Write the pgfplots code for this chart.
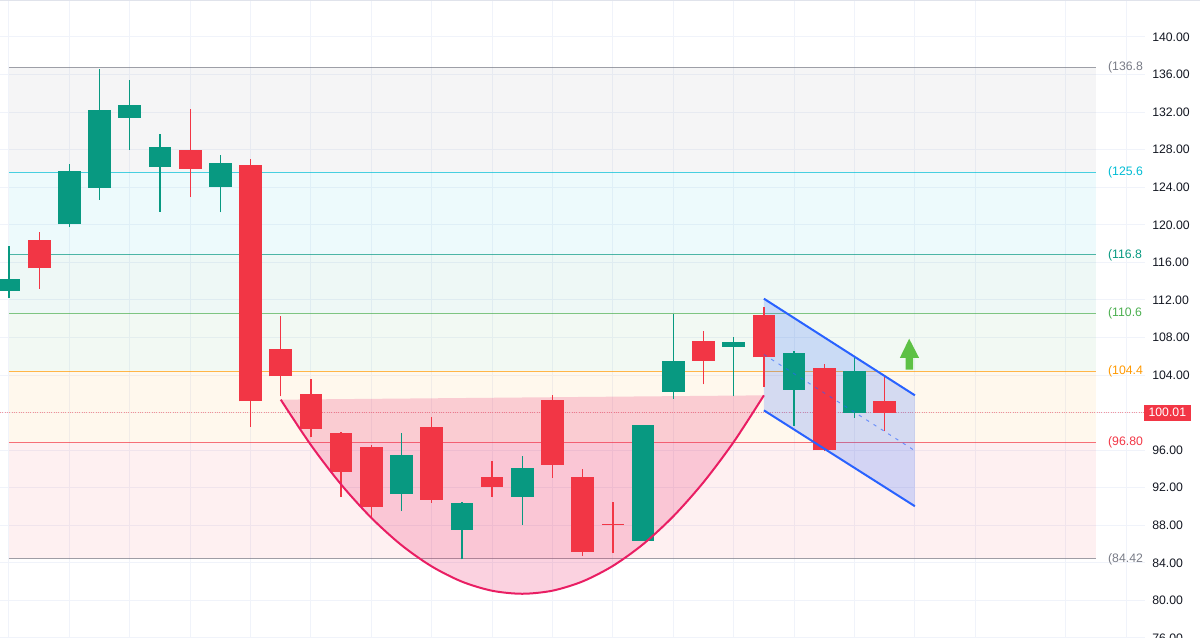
\documentclass[border=0pt]{standalone}
\usepackage{pgfplots}
\usepackage{pgfplotstable}
\pgfplotsset{compat=1.18}
\usepackage{fontspec}
\setmainfont{Liberation Sans}
\definecolor{cgreen}{HTML}{089981}
\definecolor{cred}{HTML}{F23645}
\definecolor{fgray}{HTML}{787B86}
\definecolor{fcyan}{HTML}{00BCD4}
\definecolor{fteal}{HTML}{089981}
\definecolor{fgreen}{HTML}{4CAF50}
\definecolor{forange}{HTML}{FF9800}
\definecolor{fred}{HTML}{F23645}
\definecolor{cup}{HTML}{E91E63}
\definecolor{chan}{HTML}{2962FF}
\definecolor{arrowg}{HTML}{5EC145}
\definecolor{gridc}{HTML}{F0F3FA}
\definecolor{tickc}{HTML}{131722}
\definecolor{borderc}{HTML}{E0E3EB}

\pgfplotstableread{
x o h l c
0 112.98 117.77 112.23 114.26
2 120.07 126.49 119.76 125.78
3 123.94 136.60 122.69 132.23
4 131.41 135.46 127.98 132.80
5 126.20 129.68 121.38 128.30
7 124.07 127.45 121.31 126.60
13 91.31 97.87 89.50 95.46
15 87.52 90.45 84.36 90.35
17 91.03 95.35 88.05 94.15
21 86.38 98.69 86.38 98.69
22 102.23 110.53 101.49 105.53
24 107.02 108.05 101.73 107.48
26 102.45 106.52 98.62 106.35
28 99.97 105.88 99.44 104.39
}\greendata

\pgfplotstableread{
x o h l c
1 118.33 119.26 113.19 115.35
6 127.98 132.31 122.95 125.96
8 126.35 127.05 98.51 101.20
9 106.78 110.24 101.73 103.86
10 101.95 103.58 97.37 98.27
11 97.80 97.90 90.99 93.72
12 96.31 96.52 88.69 90.00
14 98.44 99.50 90.39 90.74
16 93.19 94.82 91.06 92.13
18 101.31 101.88 93.05 94.47
19 93.12 94.04 84.71 85.14
20 88.18 90.43 85.00 88.05
23 107.63 108.72 103.01 105.50
25 110.35 111.20 102.73 105.88
27 104.76 105.18 95.88 95.99
29 101.20 103.76 98.01 100.01
}\reddata

\begin{document}
\begin{tikzpicture}
\useasboundingbox (0,0) rectangle (900pt,478.5pt);
\begin{axis}[
  at={(0,0)}, anchor=south west,
  width=858.75pt, height=478.5pt, scale only axis,
  xmin=-0.298, xmax=37.62, ymin=76.0, ymax=143.94,
  axis line style={draw=none},
  major tick length=0pt,
  xtick={0,2,4,6,8,10,12,14,16,18,20,22,24,26,28,30,32,35,37},
  xticklabels={},
  ytick={76,80,84,88,92,96,100,104,108,112,116,120,124,128,132,136,140},
  yticklabels={76.00,80.00,84.00,88.00,92.00,96.00,{},104.00,108.00,112.00,116.00,120.00,124.00,128.00,132.00,136.00,140.00},
  yticklabel pos=right,
  yticklabel style={anchor=west, inner sep=0pt, xshift=5.25pt, font=\fontsize{9.2}{10}\selectfont, text=tickc},
  grid=major, major grid style={draw=gridc, line width=0.75pt},
  clip mode=individual,
]
% Fibonacci bands
\addplot[draw=none, fill=fgray, fill opacity=0.075] coordinates {(0,125.6) (36,125.6) (36,136.8) (0,136.8)} -- cycle;
\addplot[draw=none, fill=fcyan, fill opacity=0.07] coordinates {(0,116.8) (36,116.8) (36,125.6) (0,125.6)} -- cycle;
\addplot[draw=none, fill=fteal, fill opacity=0.07] coordinates {(0,110.6) (36,110.6) (36,116.8) (0,116.8)} -- cycle;
\addplot[draw=none, fill=fgreen, fill opacity=0.07] coordinates {(0,104.4) (36,104.4) (36,110.6) (0,110.6)} -- cycle;
\addplot[draw=none, fill=forange, fill opacity=0.07] coordinates {(0,96.8) (36,96.8) (36,104.4) (0,104.4)} -- cycle;
\addplot[draw=none, fill=fred, fill opacity=0.075] coordinates {(0,84.42) (36,84.42) (36,96.8) (0,96.8)} -- cycle;
% Fibonacci lines
\addplot[draw=fgray, opacity=0.7, line width=0.75pt] coordinates {(0,136.8) (36,136.8)};
\addplot[draw=fcyan, opacity=0.7, line width=0.75pt] coordinates {(0,125.6) (36,125.6)};
\addplot[draw=fteal, opacity=0.7, line width=0.75pt] coordinates {(0,116.8) (36,116.8)};
\addplot[draw=fgreen, opacity=0.7, line width=0.75pt] coordinates {(0,110.6) (36,110.6)};
\addplot[draw=forange, opacity=0.7, line width=0.75pt] coordinates {(0,104.4) (36,104.4)};
\addplot[draw=fred, opacity=0.7, line width=0.75pt] coordinates {(0,96.8) (36,96.8)};
\addplot[draw=fgray, opacity=0.7, line width=0.75pt] coordinates {(0,84.42) (36,84.42)};
% last price line
\addplot[draw=cred, opacity=0.5, densely dotted, line width=0.75pt] coordinates {(-0.3,100.01) (37.62,100.01)};
% cup fill
\addplot[draw=none, fill=cup, fill opacity=0.2, smooth] coordinates {
(9,101.38) (10,96.54) (11,92.34) (12,88.79) (13,85.88) (14,83.62) (15,82.00) (16,81.03) (17,80.71)
(18,81.04) (19,82.03) (20,83.68) (21,85.99) (22,88.96) (23,92.59) (24,96.88) (25,101.84)} -- cycle;
% channel fill
\addplot[draw=none, fill=chan, fill opacity=0.2] coordinates {(25,112.13) (30,101.84) (30,90.03) (25,100.24)} -- cycle;
% candles: wicks
\addplot[draw=none, mark=none, error bars/.cd, y dir=plus, y explicit, error mark=none,
  error bar style={line width=1pt, draw=cgreen, solid}]
  table[x=x, y=l, y error expr=\thisrow{h}-\thisrow{l}] {\greendata};
\addplot[draw=none, mark=none, error bars/.cd, y dir=plus, y explicit, error mark=none,
  error bar style={line width=1pt, draw=cred, solid}]
  table[x=x, y=l, y error expr=\thisrow{h}-\thisrow{l}] {\reddata};
% candles: bodies
\addplot[draw=none, mark=none, error bars/.cd, y dir=plus, y explicit, error mark=none,
  error bar style={line width=17pt, draw=cgreen, solid}]
  table[x=x, y=o, y error expr=\thisrow{c}-\thisrow{o}] {\greendata};
\addplot[draw=none, mark=none, error bars/.cd, y dir=plus, y explicit, error mark=none,
  error bar style={line width=17pt, draw=cred, solid}]
  table[x=x, y=c, y error expr=\thisrow{o}-\thisrow{c}] {\reddata};
% cup curve
\addplot[draw=cup, line width=1.5pt, smooth] coordinates {
(9,101.38) (10,96.54) (11,92.34) (12,88.79) (13,85.88) (14,83.62) (15,82.00) (16,81.03) (17,80.71)
(18,81.04) (19,82.03) (20,83.68) (21,85.99) (22,88.96) (23,92.59) (24,96.88) (25,101.84)};
% channel lines
\addplot[draw=chan, line width=1.5pt] coordinates {(25,112.13) (30,101.84)};
\addplot[draw=chan, line width=1.5pt] coordinates {(25,100.24) (30,90.03)};
\addplot[draw=chan, opacity=0.6, line width=0.75pt, dash pattern=on 2.5pt off 4pt] coordinates {(25,106.19) (30,95.94)};
% arrow
\addplot[draw=none, fill=arrowg] coordinates {(29.81,107.87) (30.14,105.82) (29.94,105.82) (29.94,104.57) (29.69,104.57) (29.69,105.82) (29.50,105.82)} -- cycle;
% fib labels
\begin{scope}[every node/.style={anchor=west, inner sep=0pt, font=\fontsize{9.2}{10}\selectfont}]
\node[text=fgray] at (axis cs:36.39,136.8) {(136.8};
\node[text=fcyan] at (axis cs:36.39,125.6) {(125.6};
\node[text=fteal] at (axis cs:36.39,116.8) {(116.8};
\node[text=fgreen] at (axis cs:36.39,110.6) {(110.6};
\node[text=forange] at (axis cs:36.39,104.4) {(104.4};
\node[text=fred] at (axis cs:36.39,96.8) {(96.80};
\node[text=fgray] at (axis cs:36.39,84.42) {(84.42};
\end{scope}
\node[fill=cred, text=white, inner sep=0pt, minimum width=35.25pt, minimum height=12pt, font=\fontsize{9.2}{10}\selectfont] at (axis cs:38.36,100.01) {100.01};
\end{axis}
\draw[line width=1pt, color=borderc] (0,478.5pt) -- (900pt,478.5pt);
\end{tikzpicture}
\end{document}
